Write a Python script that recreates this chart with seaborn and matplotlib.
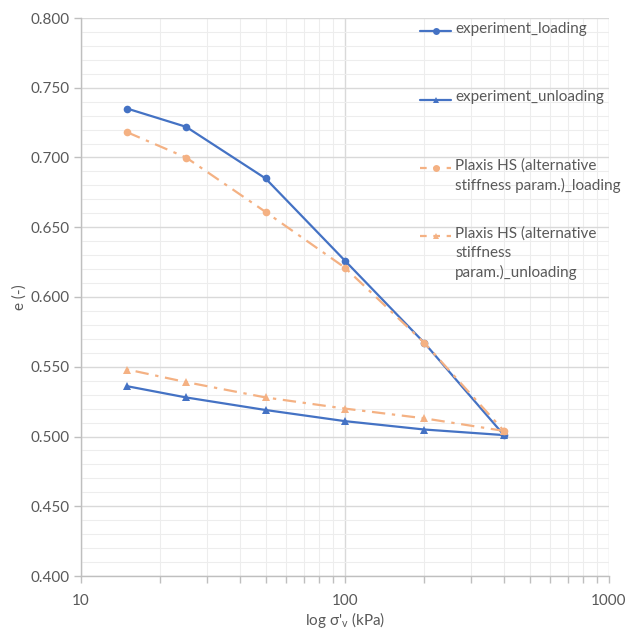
import matplotlib
matplotlib.use("Agg")
import matplotlib.pyplot as plt
import seaborn as sns
import pandas as pd
import numpy as np
from matplotlib.ticker import FixedLocator, NullFormatter, FuncFormatter, MultipleLocator
from matplotlib.lines import Line2D

# ---- data ----
stress_loading = [15, 25, 50, 100, 200, 400]
e_exp_loading = [0.735, 0.722, 0.685, 0.626, 0.567, 0.501]
stress_unloading = [400, 200, 100, 50, 25, 15]
e_exp_unloading = [0.501, 0.505, 0.511, 0.519, 0.528, 0.536]
e_plx_loading = [0.718, 0.700, 0.661, 0.621, 0.567, 0.504]
e_plx_unloading = [0.504, 0.513, 0.520, 0.528, 0.539, 0.548]

series_names = ["experiment_loading", "experiment_unloading",
                "Plaxis HS (alternative\nstiffness param.)_loading",
                "Plaxis HS (alternative\nstiffness\nparam.)_unloading"]

sns.set_theme(style="white")
plt.rcParams['font.family'] = ['Lato', 'DejaVu Sans']

BLUE = "#4472C4"
ORANGE = "#F4B183"
TXT = "#595959"

fig = plt.figure(figsize=(6.26, 6.29), dpi=100)
W, H = 626, 629
ax = fig.add_axes([81 / W, 1 - 576 / H, (609 - 81) / W, (576 - 18) / H])
ax.set_xscale("log")

styles = [
    (stress_loading, e_exp_loading, BLUE, "o", "-"),
    (stress_unloading, e_exp_unloading, BLUE, "^", "-"),
    (stress_loading, e_plx_loading, ORANGE, "o", (0, (6, 3, 1.5, 3))),
    (stress_unloading, e_plx_unloading, ORANGE, "^", (0, (6, 3, 1.5, 3))),
]
for (xs, ys, c, m, ls), name in zip(styles, series_names):
    df = pd.DataFrame({"x": xs, "y": ys})
    sns.lineplot(data=df, x="x", y="y", ax=ax, color=c, marker=m, markersize=5.5,
                 markeredgewidth=0, linewidth=1.6, linestyle=ls, sort=False, legend=False,
                 zorder=3)

ax.set_xlim(10, 1000)
ax.set_ylim(0.4, 0.8)
ax.yaxis.set_major_locator(MultipleLocator(0.05))
ax.yaxis.set_minor_locator(MultipleLocator(0.01))
ax.yaxis.set_major_formatter(FuncFormatter(lambda v, p: f"{v:.3f}"))
ax.xaxis.set_major_locator(FixedLocator([10, 100, 1000]))
ax.xaxis.set_major_formatter(FuncFormatter(lambda v, p: f"{int(round(v))}"))
ax.xaxis.set_minor_locator(FixedLocator([k * d for d in (10, 100) for k in range(2, 10)]))
ax.xaxis.set_minor_formatter(NullFormatter())

ax.grid(True, which="major", color="#D9D9D9", linewidth=1.0, zorder=0)
ax.grid(True, which="minor", color="#EDEDED", linewidth=0.8, zorder=0)
ax.set_axisbelow(True)

for s in ["top", "right"]:
    ax.spines[s].set_visible(False)
for s in ["left", "bottom"]:
    ax.spines[s].set_color("#BFBFBF")
    ax.spines[s].set_linewidth(1.0)

ax.tick_params(axis="both", which="both", direction="out", colors="#BFBFBF",
               labelcolor=TXT, labelsize=11)
ax.tick_params(axis="y", which="major", length=5, width=1, left=True, pad=3)
ax.tick_params(axis="y", which="minor", length=0, left=False)
ax.tick_params(axis="x", which="major", length=5, width=1, bottom=True, pad=8)
ax.tick_params(axis="x", which="minor", length=5, width=1, bottom=True)

ax.set_xlabel("log σ'$_\\mathregular{v}$ (kPa)", color=TXT, fontsize=11)
ax.xaxis.set_label_coords(0.5, -(620 - 576) / (576 - 18))
ax.xaxis.label.set_va("center")
ax.set_ylabel("e (-)", color=TXT, fontsize=11)
ax.yaxis.set_label_coords(-(81 - 20) / (609 - 81), 0.5)
ax.yaxis.label.set_va("center")

# ---- manual legend (first-line aligned handles) ----
first_line_y = [31, 100, 168, 236]
leg_styles = [(BLUE, "o", "-"), (BLUE, "^", "-"),
              (ORANGE, "o", (0, (3, 3))), (ORANGE, "^", (0, (3, 3)))]
for yl, (c, m, ls), name in zip(first_line_y, leg_styles, series_names):
    yf = 1 - yl / H
    fig.add_artist(Line2D([420 / W, 451 / W], [yf, yf], color=c, linewidth=1.6,
                          linestyle=ls, transform=fig.transFigure))
    fig.add_artist(Line2D([435.5 / W], [yf], color=c, marker=m, markersize=5,
                          markeredgewidth=0, transform=fig.transFigure))
    fig.text(455 / W, yf + 9.5 / H, name, color=TXT, fontsize=11, va="top", ha="left",
             linespacing=1.45)

fig.savefig("out.png", dpi=100, facecolor="white")
